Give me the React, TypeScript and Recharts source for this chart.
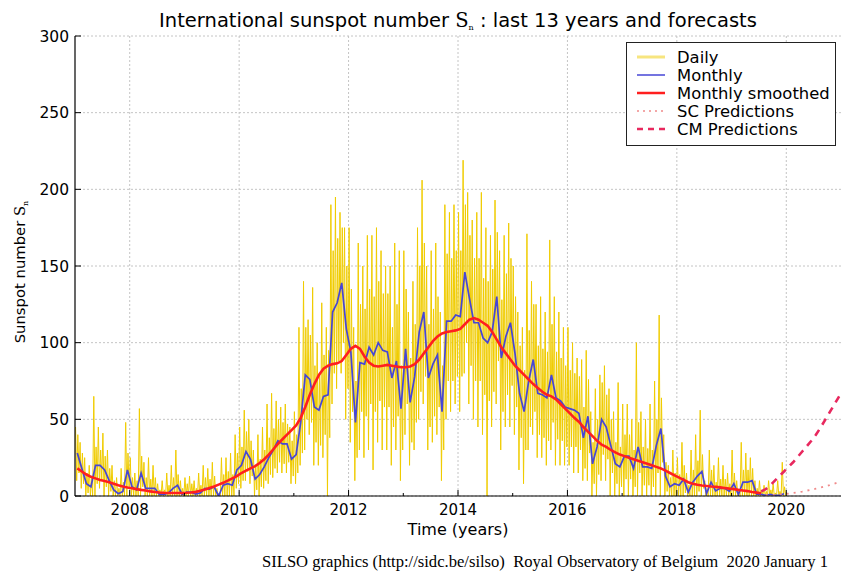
import React from 'react';
import { ComposedChart, Line, XAxis, YAxis, CartesianGrid, Legend } from 'recharts';

const START_YEAR = 2007;

// Monthly mean sunspot number, Jan 2007 .. Dec 2019
const monthlyMean = [
  28, 18, 8, 6, 20, 20, 17, 10, 4, 1.5, 3, 17,
  6, 4, 15, 5, 5, 5, 1, 1, 2, 5, 7, 1,
  2.5, 2.5, 1.2, 2, 5, 4.5, 6, 0, 7, 8, 7, 17,
  20, 29, 24, 11, 14, 19, 25, 30, 36, 34, 34, 24,
  27, 48, 79, 76, 58, 56, 65, 66, 120, 126, 139, 109,
  94, 48, 87, 86, 97, 92, 100, 95, 94, 77, 88, 57,
  96, 61, 78, 107, 120, 77, 86, 92, 55, 114, 114, 118,
  117, 146, 129, 113, 113, 103, 100, 107, 130, 90, 104, 113,
  93, 67, 55, 75, 89, 67, 66, 64, 79, 64, 62, 58,
  57, 56, 54, 38, 52, 21, 32, 50, 45, 33, 21, 19,
  26, 26, 18, 32, 19, 19, 18, 33, 44, 13, 6, 8,
  7, 11, 2.5, 9, 13, 16, 1.6, 9, 3.3, 5, 5, 3,
  8, 1, 9, 9, 10, 1.2, 1, 0.5, 1, 0.4, 0.5, 1.5,
];

// 13-month smoothed, Jan 2007 .. Jul 2019
const smoothed = [
  18, 16, 14, 12.5, 11.5, 10.5, 9.8, 9, 8, 7, 6.2, 5.5,
  5, 4.5, 4, 3.6, 3, 2.6, 2.3, 2.1, 2, 2, 2, 2,
  2.1, 2.3, 2.7, 3.4, 4.2, 5.2, 6.2, 7.4, 8.6, 10, 11.5, 13,
  15, 16.5, 18, 19.5, 21.5, 24, 27, 30.5, 34, 37, 40, 43,
  46, 51, 58, 66, 73, 79, 83, 85, 86, 86.5, 88, 92,
  96, 98, 96, 91, 87, 85, 84.5, 85, 85.5, 85, 84.5, 84,
  84, 84.5, 86, 89, 93, 97, 101, 104, 106, 107, 107.5, 108,
  109, 112, 115, 116, 115, 113, 111, 107, 102, 97, 93, 89,
  85, 82, 79, 76, 73, 70.5, 68, 66, 65, 63, 60, 57,
  54, 51, 48.5, 45, 42, 39, 36, 33.5, 32, 30, 28.5, 27,
  26, 25, 24, 23, 22, 21, 20, 19, 18, 16.5, 15, 13.5,
  12, 10.5, 9, 8, 7.3, 6.8, 6.5, 6.2, 6, 5.6, 5.2, 4.8,
  4.5, 4, 3.6, 3.2, 2.6, 2.2, 1.8,
];

// Daily values, four read-off levels per month (Jan 2007 .. Dec 2019):
// highest day, lowest day, and the upper / lower edge of the dense band
const dailyHigh = [
  45, 35, 25, 20, 65, 45, 41, 30, 20, 12, 18, 48,
  25, 15, 57, 22, 25, 20, 8, 10, 15, 20, 30, 10,
  12, 13, 10, 15, 20, 18, 22, 5, 25, 25, 28, 40,
  45, 56, 50, 30, 40, 45, 60, 67, 62, 58, 60, 45,
  55, 110, 140, 115, 136, 100, 126, 110, 190, 195, 185, 175,
  175, 110, 165, 150, 170, 170, 175, 160, 150, 150, 165, 160,
  160, 120, 140, 175, 206, 150, 160, 165, 120, 190, 185, 190,
  185, 219, 198, 180, 185, 198, 175, 170, 193, 160, 170, 178,
  150, 120, 110, 171, 140, 125, 130, 120, 167, 130, 120, 110,
  110, 100, 90, 89, 95, 55, 70, 79, 85, 70, 55, 74,
  60, 60, 50, 100, 55, 50, 60, 75, 118, 40, 20, 30,
  25, 35, 15, 30, 40, 56, 10, 30, 20, 25, 20, 15,
  30, 10, 35, 28, 25, 10, 10, 7, 10, 8, 10, 22,
];
const dailyLow = [
  10, 5, 0, 0, 0, 5, 0, 0, 0, 0, 0, 0,
  0, 0, 0, 0, 0, 0, 0, 0, 0, 0, 0, 0,
  0, 0, 0, 0, 0, 0, 0, 0, 0, 0, 0, 5,
  5, 10, 8, 0, 0, 5, 8, 12, 15, 15, 15, 8,
  8, 20, 30, 40, 20, 20, 25, 0, 60, 70, 80, 50,
  35, 10, 30, 25, 30, 17, 35, 30, 30, 20, 30, 10,
  40, 20, 30, 50, 60, 30, 35, 40, 10, 50, 55, 60,
  55, 80, 60, 50, 45, 40, 0, 45, 60, 30, 45, 45,
  40, 17, 8, 30, 40, 25, 25, 20, 30, 20, 20, 20,
  20, 15, 15, 10, 10, 0, 0, 10, 10, 0, 0, 0,
  0, 0, 0, 0, 0, 0, 0, 0, 0, 0, 0, 0,
  0, 0, 0, 0, 0, 0, 0, 0, 0, 0, 0, 0,
  0, 0, 0, 0, 0, 0, 0, 0, 0, 0, 0, 0,
];
const dailyBandTop = [
  40, 28, 15, 12, 32, 30, 26, 18, 10, 5, 9, 28,
  12, 10, 26, 12, 11, 12, 4, 4, 7, 12, 14, 5,
  8, 8, 5, 7, 12, 11, 13, 2, 14, 16, 14, 28,
  32, 42, 36, 20, 24, 30, 38, 44, 50, 48, 47, 36,
  40, 70, 110, 105, 85, 80, 92, 95, 160, 168, 175, 150,
  135, 75, 125, 122, 135, 130, 140, 132, 132, 110, 125, 85,
  135, 90, 112, 150, 165, 112, 122, 130, 85, 158, 155, 160,
  160, 190, 170, 155, 155, 142, 140, 148, 172, 128, 145, 155,
  130, 98, 82, 108, 125, 98, 96, 94, 112, 94, 90, 85,
  82, 80, 78, 58, 76, 35, 50, 74, 66, 50, 35, 32,
  40, 40, 30, 48, 32, 31, 30, 50, 64, 22, 12, 15,
  14, 20, 7, 17, 23, 27, 5, 17, 9, 11, 11, 8,
  15, 4, 17, 17, 18, 5, 4, 3, 4, 2, 3, 6,
];
const dailyBandBottom = [
  15, 8, 2, 0, 8, 10, 6, 3, 0, 0, 0, 6,
  0, 0, 6, 0, 0, 0, 0, 0, 0, 0, 0, 0,
  0, 0, 0, 0, 0, 0, 0, 0, 0, 0, 0, 8,
  10, 16, 13, 4, 6, 10, 14, 18, 22, 21, 22, 13,
  15, 28, 50, 48, 35, 33, 40, 38, 80, 88, 100, 70,
  55, 25, 55, 52, 60, 55, 62, 58, 58, 45, 52, 30,
  60, 35, 48, 68, 78, 45, 52, 58, 30, 75, 75, 78,
  78, 100, 85, 75, 75, 66, 62, 68, 88, 55, 66, 72,
  58, 38, 30, 45, 55, 40, 38, 36, 48, 37, 36, 32,
  32, 32, 30, 18, 28, 8, 14, 27, 24, 15, 8, 6,
  11, 11, 6, 15, 7, 7, 6, 15, 22, 3, 0, 0,
  0, 2, 0, 0, 3, 5, 0, 0, 0, 0, 0, 0,
  0, 0, 0, 0, 0, 0, 0, 0, 0, 0, 0, 0,
];

// Forecasts, monthly from Jul 2019 (CM) / Aug 2019 (SC)
const cmPrediction = [3, 4.5, 7, 10, 13, 16, 19, 22, 25.5, 29, 32.5, 36, 40, 44.5, 49.5, 54.5, 59.5, 64.5, 69.5];
const CM_START = 150;
const scPrediction = [0.5, 0.6, 0.8, 1.0, 1.3, 1.6, 2.0, 2.4, 2.9, 3.5, 4.1, 4.8, 5.5, 6.3, 7.1, 8.0, 9.0, 10.0];
const SC_START = 151;

const xTicks = [2008, 2010, 2012, 2014, 2016, 2018, 2020];
const xMinorTicks = [2008, 2009, 2010, 2011, 2012, 2013, 2014, 2015, 2016, 2017, 2018, 2019, 2020];
const yTicks = [0, 50, 100, 150, 200, 250, 300];

const seriesNames = ['Daily', 'Monthly', 'Monthly smoothed', 'SC Predictions', 'CM Predictions'];

const COLORS = {
  daily: '#f0cc00',
  monthly: '#4646d6',
  smoothed: '#ff1f1f',
  sc: '#f08a8a',
  cm: '#e8285e',
};

const monthT = (i: number, frac = 0.5) => START_YEAR + (i + frac) / 12;

const dailyData = dailyHigh.flatMap((hi, i) => [
  { t: monthT(i, 0.12), v: hi },
  { t: monthT(i, 0.37), v: dailyLow[i] },
  { t: monthT(i, 0.62), v: dailyBandTop[i] },
  { t: monthT(i, 0.87), v: dailyBandBottom[i] },
]);
const monthlyData = monthlyMean.map((v, i) => ({ t: monthT(i), v }));
const smoothData = smoothed.map((v, i) => ({ t: monthT(i), v }));
const cmData = cmPrediction.map((v, i) => ({ t: monthT(i + CM_START), v }));
const scData = scPrediction.map((v, i) => ({ t: monthT(i + SC_START), v }));

const FONT = '"DejaVu Sans", sans-serif';
const SERIF = '"DejaVu Serif", serif';

const BottomTick = (props: any) => {
  const { x, y, payload } = props;
  const label = xTicks.includes(payload.value);
  return (
    <g>
      <line x1={x} x2={x} y1={y} y2={y - (label ? 6 : 3)} stroke="#000" strokeWidth={1} />
      {label && (
        <text x={x} y={y + 19} textAnchor="middle" fontFamily={FONT} fontSize={15} fill="#000">
          {payload.value}
        </text>
      )}
    </g>
  );
};

const TopTick = (props: any) => {
  const { x, y, payload } = props;
  const label = xTicks.includes(payload.value);
  return <line x1={x} x2={x} y1={y} y2={y + (label ? 6 : 3)} stroke="#000" strokeWidth={1} />;
};

const LeftTick = (props: any) => {
  const { x, y, payload } = props;
  return (
    <g>
      <line x1={x} x2={x + 6} y1={y} y2={y} stroke="#000" strokeWidth={1} />
      <text x={x - 6} y={y + 5.5} textAnchor="end" fontFamily={FONT} fontSize={15.5} fill="#000">
        {payload.value}
      </text>
    </g>
  );
};

const legendStyles = [
  { color: COLORS.daily, width: 3, dash: undefined as string | undefined, opacity: 0.5 },
  { color: COLORS.monthly, width: 1.5, dash: undefined, opacity: 1 },
  { color: COLORS.smoothed, width: 2.5, dash: undefined, opacity: 1 },
  { color: COLORS.sc, width: 1.5, dash: '2 4', opacity: 1 },
  { color: COLORS.cm, width: 2.5, dash: '6 5', opacity: 1 },
];

const LegendBox = () => (
  <div
    style={{
      width: 208,
      height: 102,
      border: '1.5px solid #222',
      background: '#fff',
      boxSizing: 'content-box',
    }}
  >
    <svg width={208} height={102}>
      {seriesNames.map((name, i) => {
        const s = legendStyles[i];
        const cy = 14 + i * 18;
        return (
          <g key={name}>
            <line x1={10} x2={38} y1={cy} y2={cy} stroke={s.color} strokeWidth={s.width} strokeDasharray={s.dash} strokeOpacity={s.opacity} />
            <text x={50} y={cy + 5.5} fontFamily={FONT} fontSize={16.4} fill="#000">{name}</text>
          </g>
        );
      })}
    </svg>
  </div>
);

export default function App() {
  return (
    <div style={{ position: 'absolute', left: 0, top: 0, width: 841, height: 572, background: '#fff', overflow: 'hidden' }}>
      <ComposedChart width={841} height={572} margin={{ top: 36, right: 0, bottom: 0, left: 0 }}>
        <CartesianGrid stroke="#c4c4c4" strokeDasharray="2 2" horizontalValues={yTicks} verticalValues={xTicks} />
        <XAxis
          dataKey="t"
          type="number"
          domain={[2007, 2021]}
          ticks={xMinorTicks}
          allowDataOverflow
          height={76}
          tickSize={0}
          tickMargin={0}
          tickLine={false}
          axisLine={{ stroke: '#000', strokeWidth: 1.2 }}
          tick={BottomTick}
          interval={0}
        />
        <XAxis
          xAxisId="top"
          orientation="top"
          dataKey="t"
          type="number"
          domain={[2007, 2021]}
          ticks={xMinorTicks}
          allowDataOverflow
          height={0}
          tickSize={0}
          tickMargin={0}
          tickLine={false}
          axisLine={{ stroke: '#000', strokeWidth: 1.2 }}
          tick={TopTick}
          interval={0}
        />
        <YAxis
          type="number"
          domain={[0, 300]}
          ticks={yTicks}
          allowDataOverflow
          width={75}
          tickSize={0}
          tickMargin={0}
          tickLine={false}
          axisLine={{ stroke: '#000', strokeWidth: 1.2 }}
          tick={LeftTick}
          interval={0}
        />
        <Legend
          layout="vertical"
          align="center"
          verticalAlign="middle"
          content={LegendBox}
          wrapperStyle={{ position: 'absolute', left: 626, top: 42, width: 211, height: 105 }}
        />
        <Line data={dailyData} dataKey="v" name="Daily" stroke={COLORS.daily} strokeWidth={1} dot={false} isAnimationActive={false} />
        <Line data={monthlyData} dataKey="v" name="Monthly" stroke={COLORS.monthly} strokeWidth={1.7} dot={false} isAnimationActive={false} />
        <Line data={smoothData} dataKey="v" name="Monthly smoothed" stroke={COLORS.smoothed} strokeWidth={2.6} dot={false} isAnimationActive={false} />
        <Line data={scData} dataKey="v" name="SC Predictions" stroke={COLORS.sc} strokeWidth={1.8} strokeDasharray="2 5" dot={false} isAnimationActive={false} />
        <Line data={cmData} dataKey="v" name="CM Predictions" stroke={COLORS.cm} strokeWidth={2.6} strokeDasharray="7 6" dot={false} isAnimationActive={false} />
      </ComposedChart>
      <svg width={841} height={572} style={{ position: 'absolute', left: 0, top: 0, pointerEvents: 'none' }}>
        <text x={458} y={27} textAnchor="middle" fontFamily={FONT} fontSize={19.5} fill="#000">
          International sunspot number <tspan fontFamily={SERIF}>S</tspan>
          <tspan fontFamily={SERIF} fontSize={8} dy={3}>n</tspan>
          <tspan dy={-3}> : last 13 years and forecasts</tspan>
        </text>
        <text x={458} y={535} textAnchor="middle" fontFamily={FONT} fontSize={16} fill="#000">Time (years)</text>
        <text transform="translate(25,272) rotate(-90)" textAnchor="middle" fontFamily={FONT} fontSize={14.8} fill="#000">
          Sunspot number <tspan fontFamily={SERIF}>S</tspan>
          <tspan fontFamily={SERIF} fontSize={8} dy={3}>n</tspan>
        </text>
        <text x={262} y={567} fontFamily='"Liberation Serif", serif' fontSize={16.6} fill="#000" xmlSpace="preserve" style={{ whiteSpace: 'pre' }}>
          {'SILSO graphics (http://sidc.be/silso)  Royal Observatory of Belgium  2020 January 1'}
        </text>
      </svg>
    </div>
  );
}
